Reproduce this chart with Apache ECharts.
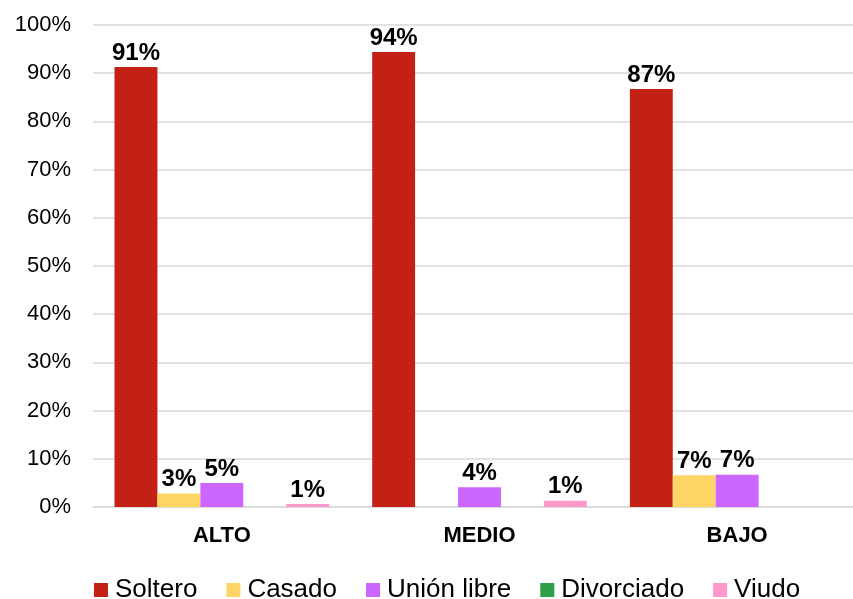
<!DOCTYPE html>
<html><head><meta charset="utf-8">
<script src="https://cdn.jsdelivr.net/npm/echarts@6/dist/echarts.min.js"></script>
<style>html,body{margin:0;padding:0;background:#fff;overflow:hidden}#c{width:866px;height:599px}</style>
</head><body><div id="c"></div>
<script>
var categories = ['ALTO', 'MEDIO', 'BAJO'];
var seriesNames = ['Soltero', 'Casado', 'Unión libre', 'Divorciado', 'Viudo'];
var soltero = [91.3, 94.4, 86.7];
var casado = [2.8, 0, 6.6];
var unionLibre = [5.0, 4.1, 6.7];
var divorciado = [0, 0, 0];
var viudo = [0.6, 1.3, 0];
var yTicks = [0, 10, 20, 30, 40, 50, 60, 70, 80, 90, 100];
var colors = ['#C32116', '#FFD666', '#CC66FF', '#2E9E48', '#FF99CC'];

var values = [soltero, casado, unionLibre, divorciado, viudo];
var font = 'Liberation Sans, Arial, sans-serif';
var chart = echarts.init(document.getElementById('c'));
chart.setOption({
  animation: false,
  textStyle: {fontFamily: font},
  grid: {left: 93, right: 0, top: 25, bottom: 92, containLabel: false},
  legend: {
    top: 577, left: 94, itemWidth: 14, itemHeight: 14, itemGap: 29,
    icon: 'rect', padding: 0,
    textStyle: {fontSize: 26, color: '#000', fontFamily: font, padding: [0, 0, 0, 2]},
    data: seriesNames
  },
  xAxis: {
    type: 'category', data: categories,
    axisLine: {lineStyle: {color: '#D9D9D9', width: 1.5}},
    axisTick: {show: false},
    axisLabel: {fontSize: 22, fontWeight: 'bold', color: '#000', margin: 18, fontFamily: font}
  },
  yAxis: {
    type: 'value', min: yTicks[0], max: yTicks[yTicks.length - 1], interval: 10,
    axisLine: {show: false}, axisTick: {show: false},
    splitLine: {lineStyle: {color: '#D9D9D9', width: 1.5}},
    axisLabel: {fontSize: 22, color: '#000', margin: 22, fontFamily: font,
      formatter: function (v) { return v + '%'; }}
  },
  series: seriesNames.map(function (n, i) {
    return {
      name: n, type: 'bar', data: values[i],
      barGap: '0%', barCategoryGap: '16.7%',
      itemStyle: {color: colors[i]},
      label: {show: true, position: 'top', distance: 2, fontSize: 24, fontWeight: 'bold', color: '#000', fontFamily: font,
        formatter: function (p) { return p.value > 0 ? Math.round(p.value) + '%' : ''; }}
    };
  })
});
</script></body></html>
